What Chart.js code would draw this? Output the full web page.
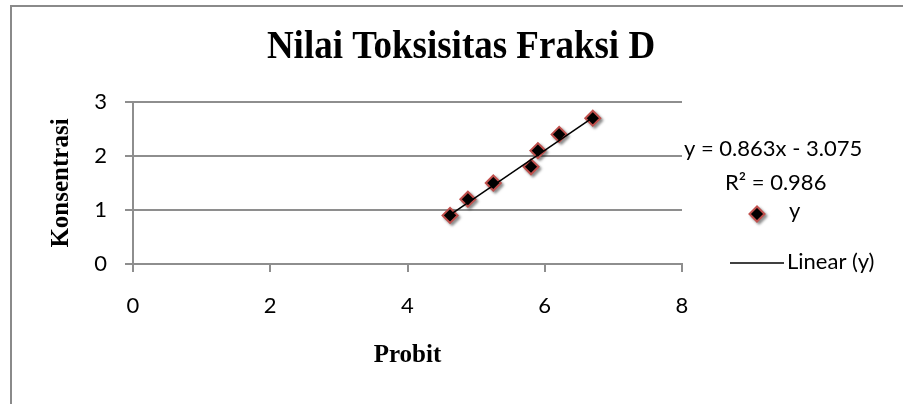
<!DOCTYPE html>
<html>
<head>
<meta charset="utf-8">
<script src="https://cdn.jsdelivr.net/npm/chart.js@4.4.1/dist/chart.umd.min.js"></script>
<style>
  html, body { margin: 0; padding: 0; background: #fff; }
  #wrap { width: 903px; height: 404px; }
</style>
</head>
<body>
<div id="wrap"><canvas id="chart" width="903" height="404"></canvas></div>
<script>
// --  data  --
const probit = [4.62, 4.88, 5.25, 5.80, 5.90, 6.21, 6.70]
const konsentrasi = [0.9, 1.2, 1.5, 1.8, 2.1, 2.4, 2.7]

// trendline ends (y = 0.863x - 3.075 over the data range)
const trendX = [4.62, 6.70]
const trendY = [0.91, 2.71]

const xTicks = [0, 2, 4, 6, 8]
const yTicks = [0, 1, 2, 3]

const chartTitle = 'Nilai Toksisitas Fraksi D'
const xTitle = 'Probit'
const yTitle = 'Konsentrasi'
const equationText = 'y = 0.863x - 3.075'
const r2Text = 'R\u00B2 = 0.986'
const seriesName = 'y'
const trendName = 'Linear (y)'

function toPoints (xs, ys) {
    const arr = []
    for (let i = 0; i < xs.length; i++) {
        arr.push({x: xs[i], y: ys[i]})
    }
    return arr
}

const serifBold = '"Liberation Serif", "Times New Roman", serif'
const sans = 'Lato, "Open Sans", sans-serif'
const gridGray = '#8e8e8e'
const markerRed = '#c0504d'

// frame, title and the right-hand legend text
const decorPlugin = {
    id: 'decor',
    beforeDatasetDraw (chart, args) {
        if (args.index === 1) {
            const ctx = chart.ctx
            ctx.save()
            ctx.shadowColor = 'rgba(0,0,0,0.4)'
            ctx.shadowOffsetX = 2
            ctx.shadowOffsetY = 2
            ctx.shadowBlur = 3
        }
    },
    afterDatasetDraw (chart, args) {
        if (args.index === 1) chart.ctx.restore()
    },
    afterDraw (chart) {
        const ctx = chart.ctx
        const area = chart.chartArea
        ctx.save()

        // outer frame (top and left edges show)
        ctx.strokeStyle = '#8a8a8a'
        ctx.lineWidth = 2
        ctx.beginPath()
        ctx.moveTo(11, 404)
        ctx.lineTo(11, 6)
        ctx.lineTo(903, 6)
        ctx.stroke()

        // title (the original is a bit taller than plain Times)
        ctx.fillStyle = '#000'
        ctx.font = 'bold 37px ' + serifBold
        ctx.textAlign = 'center'
        ctx.textBaseline = 'middle'
        ctx.save()
        ctx.translate(461, 48)
        ctx.scale(1, 1.06)
        ctx.fillText(chartTitle, 0, 0)
        ctx.restore()

        // legend + equation
        ctx.font = '22px ' + sans
        ctx.textAlign = 'left'
        ctx.fillText(equationText, area.right + 2, 149)
        ctx.fillText(r2Text, area.right + 43, 183)
        ctx.fillText(seriesName, area.right + 107, 211)

        ctx.fillStyle = '#000'
        ctx.strokeStyle = markerRed
        ctx.shadowColor = 'rgba(0,0,0,0.4)'
        ctx.shadowOffsetX = 2
        ctx.shadowOffsetY = 2
        ctx.shadowBlur = 3
        Chart.helpers.drawPoint(ctx, {pointStyle: 'rectRot', radius: 7.5, borderWidth: 2, rotation: 0}, area.right + 75, 214)
        ctx.shadowColor = 'rgba(0,0,0,0)'

        ctx.strokeStyle = '#000'
        ctx.lineWidth = 1.5
        ctx.beginPath()
        ctx.moveTo(area.right + 48, 263)
        ctx.lineTo(area.right + 102, 263)
        ctx.stroke()
        ctx.fillText(trendName, area.right + 105, 262)

        ctx.restore()
    }
}

const ctx = document.getElementById('chart').getContext('2d')
new Chart(ctx, {
    type: 'scatter',
    data: {
        datasets: [
            {
                label: trendName,
                data: toPoints(trendX, trendY),
                showLine: true,
                borderColor: '#000',
                borderWidth: 1.5,
                pointRadius: 0
            },
            {
                label: seriesName,
                data: toPoints(probit, konsentrasi),
                pointStyle: 'rectRot',
                pointRadius: 7.5,
                pointHoverRadius: 7.5,
                backgroundColor: '#000',
                borderColor: markerRed,
                borderWidth: 2
            }
        ]
    },
    options: {
        responsive: false,
        animation: false,
        events: [],
        layout: {
            padding: {left: 0, top: 102, right: 221, bottom: 0}
        },
        plugins: {
            legend: {display: false},
            title: {display: false},
            tooltip: {enabled: false}
        },
        scales: {
            x: {
                type: 'linear',
                min: xTicks[0],
                max: xTicks[xTicks.length - 1],
                afterBuildTicks: scale => { scale.ticks = xTicks.map(v => ({value: v})) },
                afterFit: scale => { scale.height = 140 },
                grid: {drawOnChartArea: false, drawTicks: true, tickLength: 8, color: gridGray, lineWidth: 2},
                border: {color: gridGray, width: 2},
                ticks: {color: '#000', font: {family: sans, size: 22}, padding: 21},
                title: {
                    display: true,
                    text: xTitle,
                    color: '#000',
                    font: {family: serifBold, size: 25, weight: 'bold'},
                    padding: {top: 0, bottom: 33}
                }
            },
            y: {
                type: 'linear',
                min: yTicks[0],
                max: yTicks[yTicks.length - 1],
                afterBuildTicks: scale => { scale.ticks = yTicks.map(v => ({value: v})) },
                afterFit: scale => { scale.width = 133 },
                grid: {drawOnChartArea: true, drawTicks: true, tickLength: 8, color: gridGray, lineWidth: 2},
                border: {color: gridGray, width: 2},
                ticks: {color: '#000', font: {family: sans, size: 22}, padding: 18},
                title: {
                    display: true,
                    text: yTitle,
                    color: '#000',
                    font: {family: serifBold, size: 25, weight: 'bold'},
                    padding: {top: 47, bottom: 0}
                }
            }
        }
    },
    plugins: [decorPlugin]
})
</script>
</body>
</html>
